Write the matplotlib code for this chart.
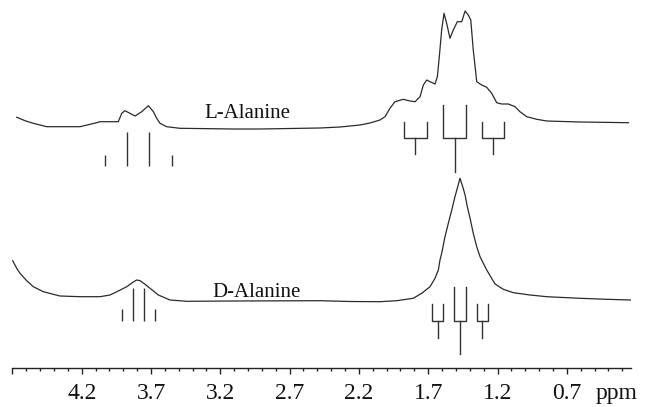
import matplotlib
matplotlib.use("Agg")
import matplotlib.pyplot as plt
from matplotlib.ticker import FixedLocator, MultipleLocator

# ---- data (ppm, intensity in arbitrary units) ----
l_ppm = [4.669, 4.609, 4.549, 4.453, 4.212, 4.092, 4.068, 3.936, 3.911, 3.888,
         3.852, 3.815, 3.767, 3.719, 3.683, 3.659, 3.635, 3.587, 3.491, 3.108,
         2.914, 2.697, 2.481, 2.336, 2.192, 2.120, 2.048, 2.012, 1.976, 1.940,
         1.880, 1.831, 1.795, 1.759, 1.735, 1.711, 1.687, 1.651, 1.634, 1.620,
         1.603, 1.586, 1.567, 1.543, 1.519, 1.490, 1.458, 1.434, 1.411, 1.393,
         1.375, 1.350, 1.314, 1.278, 1.242, 1.206, 1.170, 1.122, 1.074, 1.038,
         0.989, 0.917, 0.845, 0.605, 0.255]
l_int = [250.4, 247.0, 244.4, 241.0, 241.0, 245.0, 246.0, 246.0, 254.4, 257.0,
         254.4, 251.7, 256.0, 262.0, 256.0, 249.4, 244.4, 241.0, 239.4, 238.7,
         238.7, 239.2, 239.7, 240.7, 242.7, 244.7, 247.7, 251.0, 259.4, 266.0,
         268.4, 266.7, 266.0, 271.0, 282.7, 287.7, 286.0, 283.7, 291.0, 311.0,
         337.7, 354.4, 344.4, 329.4, 337.7, 346.0, 346.0, 356.7, 352.7, 347.7,
         317.7, 286.0, 282.7, 280.4, 274.4, 265.0, 263.7, 263.7, 261.0, 256.0,
         251.0, 248.4, 246.7, 245.7, 245.0]

d_ppm = [4.698, 4.669, 4.645, 4.597, 4.549, 4.477, 4.357, 4.212, 4.068, 3.996,
         3.936, 3.875, 3.828, 3.803, 3.779, 3.743, 3.707, 3.647, 3.563, 3.442,
         3.106, 2.481, 2.265, 2.048, 1.927, 1.808, 1.747, 1.687, 1.651, 1.627,
         1.615, 1.603, 1.579, 1.555, 1.530, 1.507, 1.487, 1.471, 1.451, 1.434,
         1.418, 1.398, 1.375, 1.350, 1.326, 1.278, 1.218, 1.158, 1.086, 0.965,
         0.845, 0.605, 0.412, 0.237]
d_int = [107.0, 99.4, 94.4, 87.0, 81.0, 76.0, 71.7, 71.0, 71.0, 72.7,
         76.7, 81.0, 85.7, 87.7, 87.0, 83.4, 79.4, 72.7, 67.7, 66.4,
         66.7, 67.0, 66.2, 66.0, 67.0, 69.4, 74.4, 81.0, 89.4, 97.7,
         107.7, 114.4, 131.0, 144.4, 157.7, 171.0, 181.0, 189.4, 181.0, 172.7,
         161.0, 149.4, 134.4, 121.0, 111.0, 97.7, 83.7, 78.4, 75.0, 72.7,
         71.0, 69.4, 68.4, 67.7]

# quartet stick diagrams (CH proton)
l_quartet_ppm = [4.031, 3.873, 3.714, 3.548]
l_quartet_top = [212.7, 235.7, 235.7, 212.7]
l_quartet_base = 201.7
d_quartet_ppm = [3.911, 3.832, 3.751, 3.671]
d_quartet_top = [58.7, 79.7, 79.7, 58.7]
d_quartet_base = 46.7

# doublet "tree" diagrams (CH3 protons)
l_tree_ppm = [1.792, 1.509, 1.230]
l_tree_half = [0.081, 0.082, 0.079]
l_tree_top = [245.7, 262.7, 245.7]
l_tree_bar = 229.7
l_tree_stem = [213.7, 195.7, 213.7]
d_tree_ppm = [1.631, 1.470, 1.310]
d_tree_half = [0.040, 0.042, 0.041]
d_tree_top = [63.7, 80.7, 63.7]
d_tree_bar = 46.7
d_tree_stem = [29.7, 13.7, 29.7]

major_ticks = [4.7, 4.2, 3.7, 3.2, 2.7, 2.2, 1.7, 1.2, 0.7]
major_labels = ["", "4.2", "3.7", "3.2", "2.7", "2.2", "1.7", "1.2", "0.7"]
unit_label = "ppm"
unit_pos = 0.338
labels = ["L-Alanine", "D-Alanine"]
label_pos = [(3.007, 249.7), (2.937, 71.0)]

# ---- figure ----
plt.rcParams["font.family"] = ["Liberation Serif", "DejaVu Serif"]
fig = plt.figure(figsize=(6.47, 4.07), dpi=100)
ax = fig.add_axes([12.4 / 647, 39.3 / 407, (631 - 12.4) / 647, 367.7 / 407])
ax.set_xlim(4.7, 0.237)
ax.set_ylim(0, 367.7)

line_kw = dict(color="#2a2a2a", lw=0.9)
stick_kw = dict(color="#333333", lw=1.0)

ax.plot(l_ppm, l_int, **line_kw)
ax.plot(d_ppm, d_int, **line_kw)

ax.vlines(l_quartet_ppm, l_quartet_base, l_quartet_top, **stick_kw)
ax.vlines(d_quartet_ppm, d_quartet_base, d_quartet_top, **stick_kw)

for c, h, top, stem in zip(l_tree_ppm, l_tree_half, l_tree_top, l_tree_stem):
    ax.plot([c - h, c - h, c + h, c + h], [top, l_tree_bar, l_tree_bar, top], **stick_kw)
    ax.plot([c, c], [l_tree_bar, stem], **stick_kw)
for c, h, top, stem in zip(d_tree_ppm, d_tree_half, d_tree_top, d_tree_stem):
    ax.plot([c - h, c - h, c + h, c + h], [top, d_tree_bar, d_tree_bar, top], **stick_kw)
    ax.plot([c, c], [d_tree_bar, stem], **stick_kw)

for txt, (x, y) in zip(labels, label_pos):
    ax.text(x, y, txt, ha="center", va="baseline", fontsize=15, color="#111111")

for s in ["top", "left", "right"]:
    ax.spines[s].set_visible(False)
ax.spines["bottom"].set_linewidth(1.0)
ax.spines["bottom"].set_color("#222222")
ax.set_yticks([])
ax.xaxis.set_major_locator(FixedLocator(major_ticks + [unit_pos]))
ax.set_xticklabels(major_labels + [unit_label])
ax.xaxis.set_minor_locator(MultipleLocator(0.1))
ax.tick_params(axis="x", which="major", direction="out", length=4.5, width=1.0,
               pad=6.5, labelsize=17, colors="#222222", labelcolor="#111111")
ax.tick_params(axis="x", which="minor", direction="out", length=2.2, width=1.0,
               colors="#222222")
# the unit label sits in the tick-label row but has no tick mark of its own
ax.xaxis.get_major_ticks()[-1].tick1line.set_visible(False)
ax.patch.set_alpha(0)

fig.savefig("out.png", dpi=100, facecolor="white")
